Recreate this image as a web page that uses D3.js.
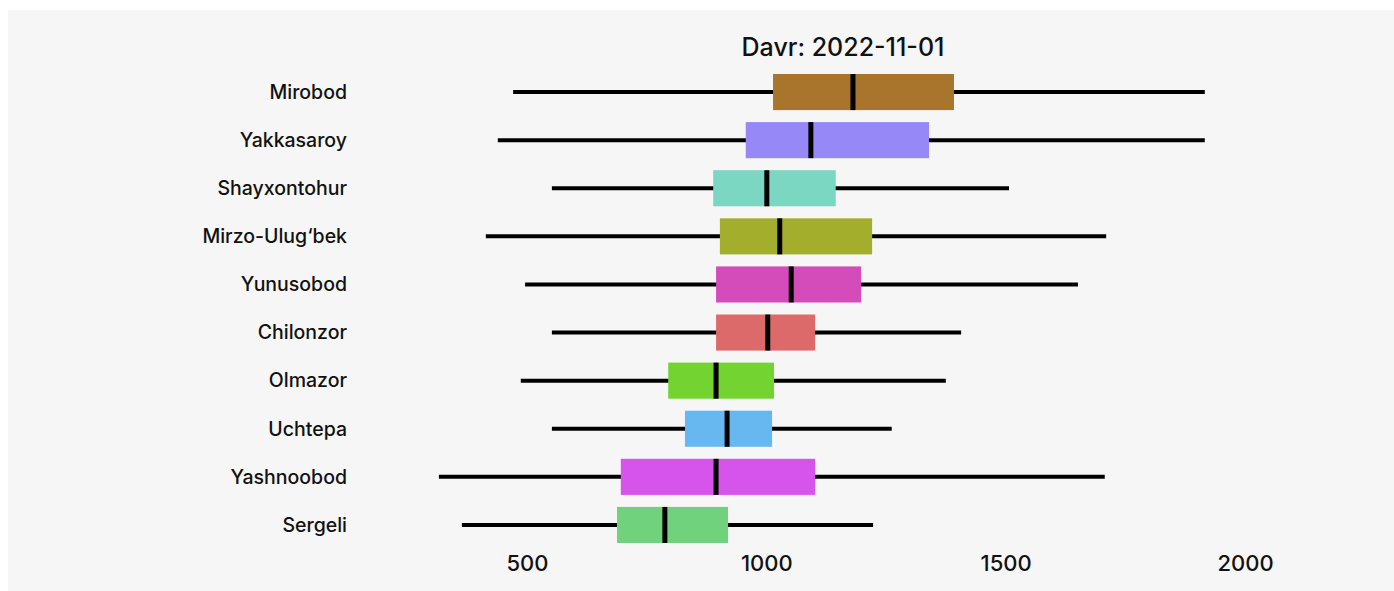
<!DOCTYPE html>
<html>
<head>
<meta charset="utf-8">
<script src="https://cdn.jsdelivr.net/npm/d3@7"></script>
<style>
  body { margin: 0; background: #ffffff; }
  .frame { display: block; }
  text { font-family: Inter, "Open Sans", sans-serif; fill: #111; }
</style>
</head>
<body>
<div id="vis-box"></div>
<script>
const FRAME_HEIGHT = 591;
const FRAME_WIDTH = 1394;

// district names, top to bottom
const DISTRICTS = ["Mirobod", "Yakkasaroy", "Shayxontohur", "Mirzo-Ulug\u2018bek", "Yunusobod",
                   "Chilonzor", "Olmazor", "Uchtepa", "Yashnoobod", "Sergeli"];

// box stats
const WHISKER_LO = [471, 439, 552, 414, 496, 552, 487, 552, 316, 364];
const Q1         = [1014, 957, 889, 903, 895, 895, 795, 830, 696, 688];
const MEDIAN     = [1181, 1093, 1001, 1028, 1052, 1003, 895, 918, 895, 788];
const Q3         = [1392, 1340, 1145, 1221, 1198, 1102, 1016, 1012, 1102, 920];
const WHISKER_HI = [1916, 1916, 1507, 1710, 1651, 1407, 1375, 1262, 1707, 1223];

const COLORS = ["#a9742b", "#9688f6", "#7bd6c2", "#a4ae2d", "#d44cb9",
                "#dc6a6b", "#73d330", "#67b8f0", "#d653ec", "#70d27c"];

const X_TICKS = [500, 1000, 1500, 2000];
const TITLE = "Davr: 2022-11-01";

const data = DISTRICTS.map((d, i) => ({
  name: d, lo: WHISKER_LO[i], q1: Q1[i], med: MEDIAN[i], q3: Q3[i], hi: WHISKER_HI[i], color: COLORS[i]
}));

const X_SCALE = d3.scaleLinear()
                  .domain([500, 2000])
                  .range([527, 1245]);

const Y_SCALE = d3.scaleBand()
                  .domain(DISTRICTS)
                  .range([68, 549])
                  .paddingInner(0.25)
                  .paddingOuter(0.125);

const SVG = d3.select("#vis-box")
              .append("svg")
                .attr("height", FRAME_HEIGHT)
                .attr("width", FRAME_WIDTH)
                .attr("class", "frame");

// grey panel
SVG.append("rect")
    .attr("x", 8).attr("y", 10)
    .attr("width", FRAME_WIDTH - 8).attr("height", FRAME_HEIGHT - 10)
    .attr("fill", "#f6f6f6");

// title
SVG.append("text")
    .attr("x", 843).attr("y", 56)
    .attr("text-anchor", "middle")
    .attr("font-size", "25px")
    .attr("font-weight", 500)
    .text(TITLE);

const ROWS = SVG.selectAll(".row")
    .data(data)
    .enter()
    .append("g")
      .attr("class", "row")
      .attr("transform", (d) => "translate(0," + Y_SCALE(d.name) + ")");

const BW = Y_SCALE.bandwidth();

// whiskers
ROWS.append("line")
    .attr("x1", (d) => X_SCALE(d.lo))
    .attr("x2", (d) => X_SCALE(d.hi))
    .attr("y1", BW / 2).attr("y2", BW / 2)
    .attr("stroke", "#000").attr("stroke-width", 4);

// boxes
ROWS.append("rect")
    .attr("x", (d) => X_SCALE(d.q1))
    .attr("width", (d) => X_SCALE(d.q3) - X_SCALE(d.q1))
    .attr("y", 0)
    .attr("height", BW)
    .attr("fill", (d) => d.color);

// medians
ROWS.append("line")
    .attr("x1", (d) => X_SCALE(d.med))
    .attr("x2", (d) => X_SCALE(d.med))
    .attr("y1", 0).attr("y2", BW)
    .attr("stroke", "#000").attr("stroke-width", 5);

// category labels
ROWS.append("text")
    .attr("x", 347)
    .attr("y", BW / 2)
    .attr("dy", "0.35em")
    .attr("text-anchor", "end")
    .attr("font-size", "19.5px")
    .attr("font-weight", 500)
    .text((d) => d.name);

// x axis (labels only)
const X_AXIS = SVG.append("g")
    .attr("transform", "translate(0,553)")
    .call(d3.axisBottom(X_SCALE).tickValues(X_TICKS).tickFormat(d3.format("d")).tickSize(0).tickPadding(2));
X_AXIS.select(".domain").remove();
X_AXIS.selectAll("text")
    .attr("font-size", "22px")
    .attr("font-weight", 500)
    .style("font-family", "Inter, 'Open Sans', sans-serif")
    .attr("fill", "#111");
</script>
</body>
</html>
